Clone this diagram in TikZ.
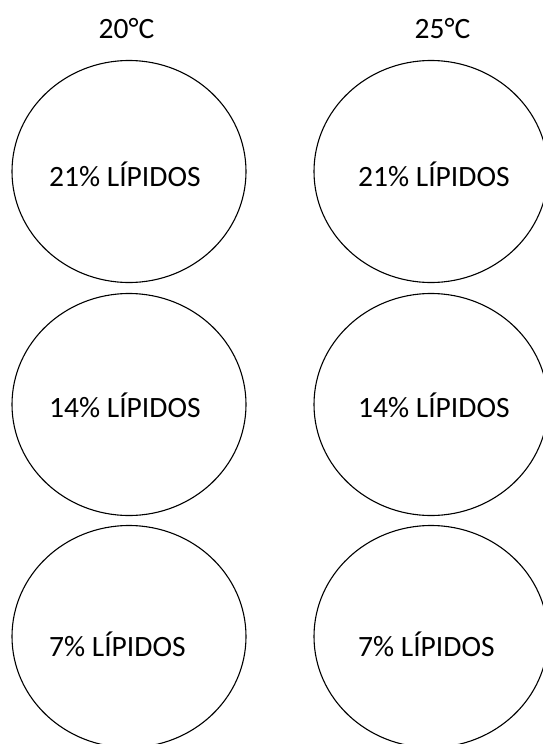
\documentclass[tikz,border=0pt]{standalone}
\usepackage{fontspec}
\setmainfont{Carlito}
\usetikzlibrary{shapes.geometric}

\begin{document}
\begin{tikzpicture}[
    x=1pt,y=-1pt,
    font=\fontsize{29.5}{34}\selectfont,
    sample/.style={
      ellipse,
      draw,
      line width=1.1pt,
      minimum width=234pt,
      minimum height=222pt,
      inner sep=0pt
    },
    tag/.style={
      anchor=west,
      inner sep=0pt
    },
    head/.style={
      inner sep=0pt
    }
  ]
  \useasboundingbox (0,0) rectangle (543,744);
  \clip (0,0) rectangle (543,744);

  % ========== column titles ==========
  \node[head] (t20) at (126.5,28.5) {20°C};
  \node[head] (t25) at (442.5,28.5) {25°C};

  % ========== 20 C ==========
  \node[sample] (a21) at (129,171.5) {};
  \node[sample] (a14) at (129,404.5) {};
  \node[sample] (a7)  at (129,636.5) {};
  \node[tag] (la21) at (49,174) {21\% LÍPIDOS};
  \node[tag] (la14) at (49,405) {14\% LÍPIDOS};
  \node[tag] (la7)  at (49,644) {7\% LÍPIDOS};

  % ========== 25 C ==========
  \node[sample] (b21) at (431,171.5) {};
  \node[sample] (b14) at (431,404.5) {};
  \node[sample] (b7)  at (431,636.5) {};
  \node[tag] (lb21) at (358,174) {21\% LÍPIDOS};
  \node[tag] (lb14) at (358,405) {14\% LÍPIDOS};
  \node[tag] (lb7)  at (358,644) {7\% LÍPIDOS};
\end{tikzpicture}
\end{document}
